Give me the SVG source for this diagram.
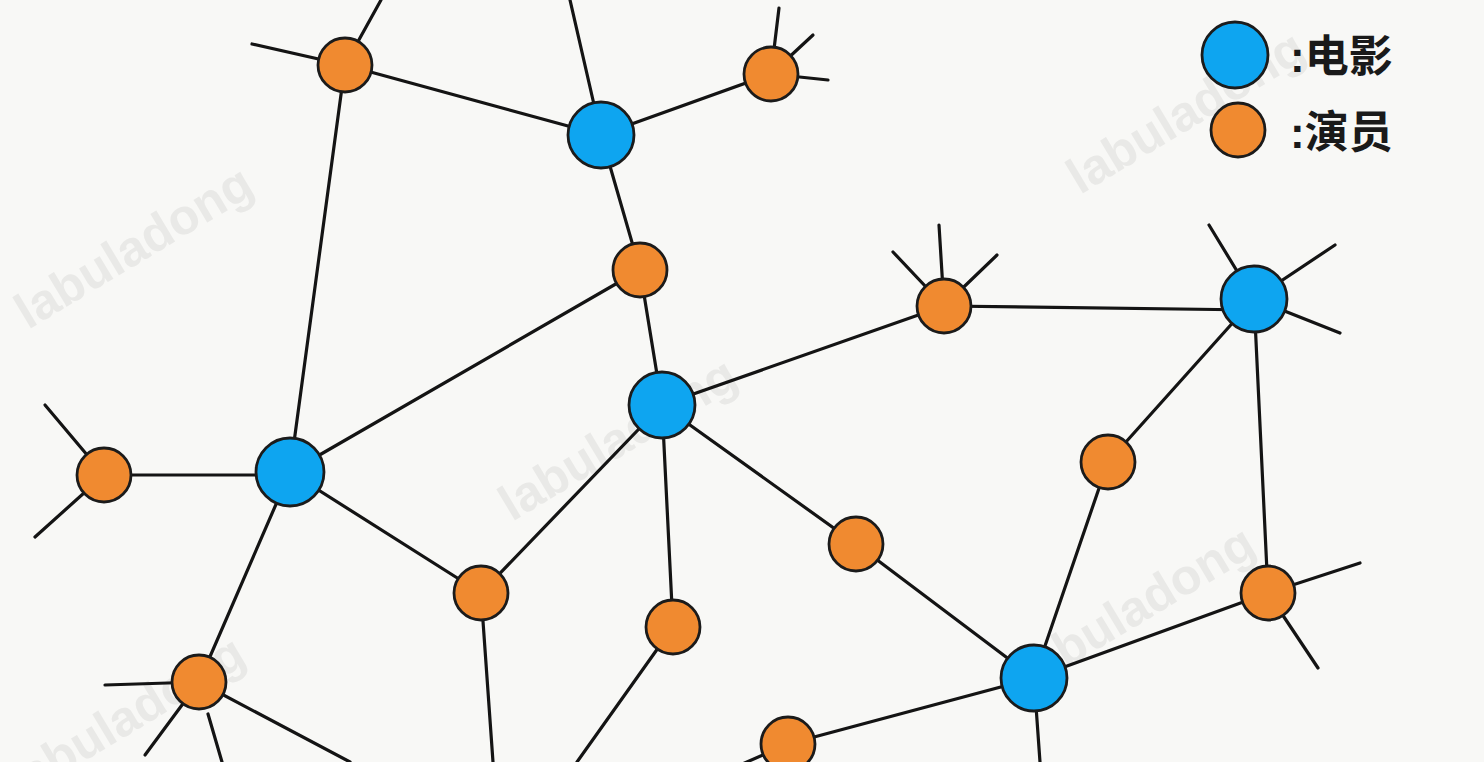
<svg xmlns="http://www.w3.org/2000/svg" width="1484" height="762" viewBox="0 0 1484 762">
<style>
.e{stroke:#141414;stroke-width:3.2;stroke-linecap:round;fill:none}
.m{fill:#0ea5f0;stroke:#1b1b1b;stroke-width:2.8}
.a{fill:#f08a30;stroke:#1b1b1b;stroke-width:2.8}
.wm{font-family:"Liberation Sans",Arial,sans-serif;font-weight:bold;font-size:50px;fill:#e9e9e7}
.lg{font-family:"Liberation Sans","Noto Sans CJK SC",sans-serif;font-weight:bold;font-size:44px;fill:#1a1a1a}
</style>
<rect width="1484" height="762" fill="#f8f8f6"/>
<g id="watermarks">
<text class="wm" transform="translate(28,330) rotate(-31)">labuladong</text>
<text class="wm" transform="translate(512,522) rotate(-31)">labuladong</text>
<text class="wm" transform="translate(1080,195) rotate(-31)">labuladong</text>
<text class="wm" transform="translate(1030,690) rotate(-31)">labuladong</text>
<text class="wm" transform="translate(20,800) rotate(-31)">labuladong</text>
</g>
<g id="connectors">
<line class="e" x1="345" y1="65" x2="381" y2="0"/>
<line class="e" x1="252" y1="44" x2="345" y2="65"/>
<line class="e" x1="345" y1="65" x2="601" y2="135"/>
<line class="e" x1="345" y1="65" x2="290" y2="472"/>
<line class="e" x1="601" y1="135" x2="570" y2="0"/>
<line class="e" x1="601" y1="135" x2="771" y2="74"/>
<line class="e" x1="771" y1="74" x2="779" y2="8"/>
<line class="e" x1="771" y1="74" x2="813" y2="35"/>
<line class="e" x1="771" y1="74" x2="828" y2="80"/>
<line class="e" x1="601" y1="135" x2="640" y2="270"/>
<line class="e" x1="640" y1="270" x2="662" y2="405"/>
<line class="e" x1="640" y1="270" x2="290" y2="472"/>
<line class="e" x1="662" y1="405" x2="944" y2="306"/>
<line class="e" x1="944" y1="306" x2="939" y2="225"/>
<line class="e" x1="944" y1="306" x2="893" y2="252"/>
<line class="e" x1="944" y1="306" x2="997" y2="255"/>
<line class="e" x1="944" y1="306" x2="1254" y2="310"/>
<line class="e" x1="1254" y1="299" x2="1209" y2="225"/>
<line class="e" x1="1254" y1="299" x2="1335" y2="245"/>
<line class="e" x1="1254" y1="299" x2="1340" y2="333"/>
<line class="e" x1="1254" y1="299" x2="1108" y2="462"/>
<line class="e" x1="1254" y1="299" x2="1268" y2="593"/>
<line class="e" x1="1108" y1="462" x2="1034" y2="678"/>
<line class="e" x1="662" y1="405" x2="856" y2="544"/>
<line class="e" x1="856" y1="544" x2="1034" y2="678"/>
<line class="e" x1="662" y1="405" x2="673" y2="627"/>
<line class="e" x1="662" y1="405" x2="481" y2="593"/>
<line class="e" x1="45" y1="405" x2="104" y2="475"/>
<line class="e" x1="35" y1="537" x2="104" y2="475"/>
<line class="e" x1="104" y1="475" x2="290" y2="475"/>
<line class="e" x1="290" y1="472" x2="481" y2="593"/>
<line class="e" x1="290" y1="472" x2="199" y2="682"/>
<line class="e" x1="481" y1="593" x2="493" y2="762"/>
<line class="e" x1="673" y1="627" x2="577" y2="762"/>
<line class="e" x1="105" y1="685" x2="199" y2="682"/>
<line class="e" x1="145" y1="755" x2="199" y2="682"/>
<line class="e" x1="208" y1="714" x2="222" y2="762"/>
<line class="e" x1="199" y1="682" x2="350" y2="762"/>
<line class="e" x1="1268" y1="593" x2="1034" y2="678"/>
<line class="e" x1="1268" y1="593" x2="1360" y2="563"/>
<line class="e" x1="1268" y1="593" x2="1318" y2="668"/>
<line class="e" x1="1034" y1="678" x2="788" y2="744"/>
<line class="e" x1="1034" y1="678" x2="1040" y2="762"/>
<line class="e" x1="788" y1="744" x2="740" y2="765"/>
</g>
<g id="movie-1"><circle class="m" cx="601" cy="135" r="33"/></g>
<g id="movie-2"><circle class="m" cx="662" cy="405" r="33"/></g>
<g id="movie-3"><circle class="m" cx="290" cy="472" r="34"/></g>
<g id="movie-4"><circle class="m" cx="1254" cy="299" r="33"/></g>
<g id="movie-5"><circle class="m" cx="1034" cy="678" r="33"/></g>
<g id="actor-1"><circle class="a" cx="345" cy="65" r="27"/></g>
<g id="actor-2"><circle class="a" cx="771" cy="74" r="27"/></g>
<g id="actor-3"><circle class="a" cx="640" cy="270" r="27"/></g>
<g id="actor-4"><circle class="a" cx="944" cy="306" r="27"/></g>
<g id="actor-5"><circle class="a" cx="104" cy="475" r="27"/></g>
<g id="actor-6"><circle class="a" cx="1108" cy="462" r="27"/></g>
<g id="actor-7"><circle class="a" cx="856" cy="544" r="27"/></g>
<g id="actor-8"><circle class="a" cx="481" cy="593" r="27"/></g>
<g id="actor-9"><circle class="a" cx="673" cy="627" r="27"/></g>
<g id="actor-10"><circle class="a" cx="1268" cy="593" r="27"/></g>
<g id="actor-11"><circle class="a" cx="199" cy="682" r="27"/></g>
<g id="actor-12"><circle class="a" cx="788" cy="744" r="27"/></g>
<g id="legend">
<circle class="m" cx="1235" cy="55" r="33"/>
<text class="lg" x="1290" y="72">:电影</text>
<circle class="a" cx="1238" cy="130" r="27"/>
<text class="lg" x="1290" y="148">:演员</text>
</g>
</svg>
